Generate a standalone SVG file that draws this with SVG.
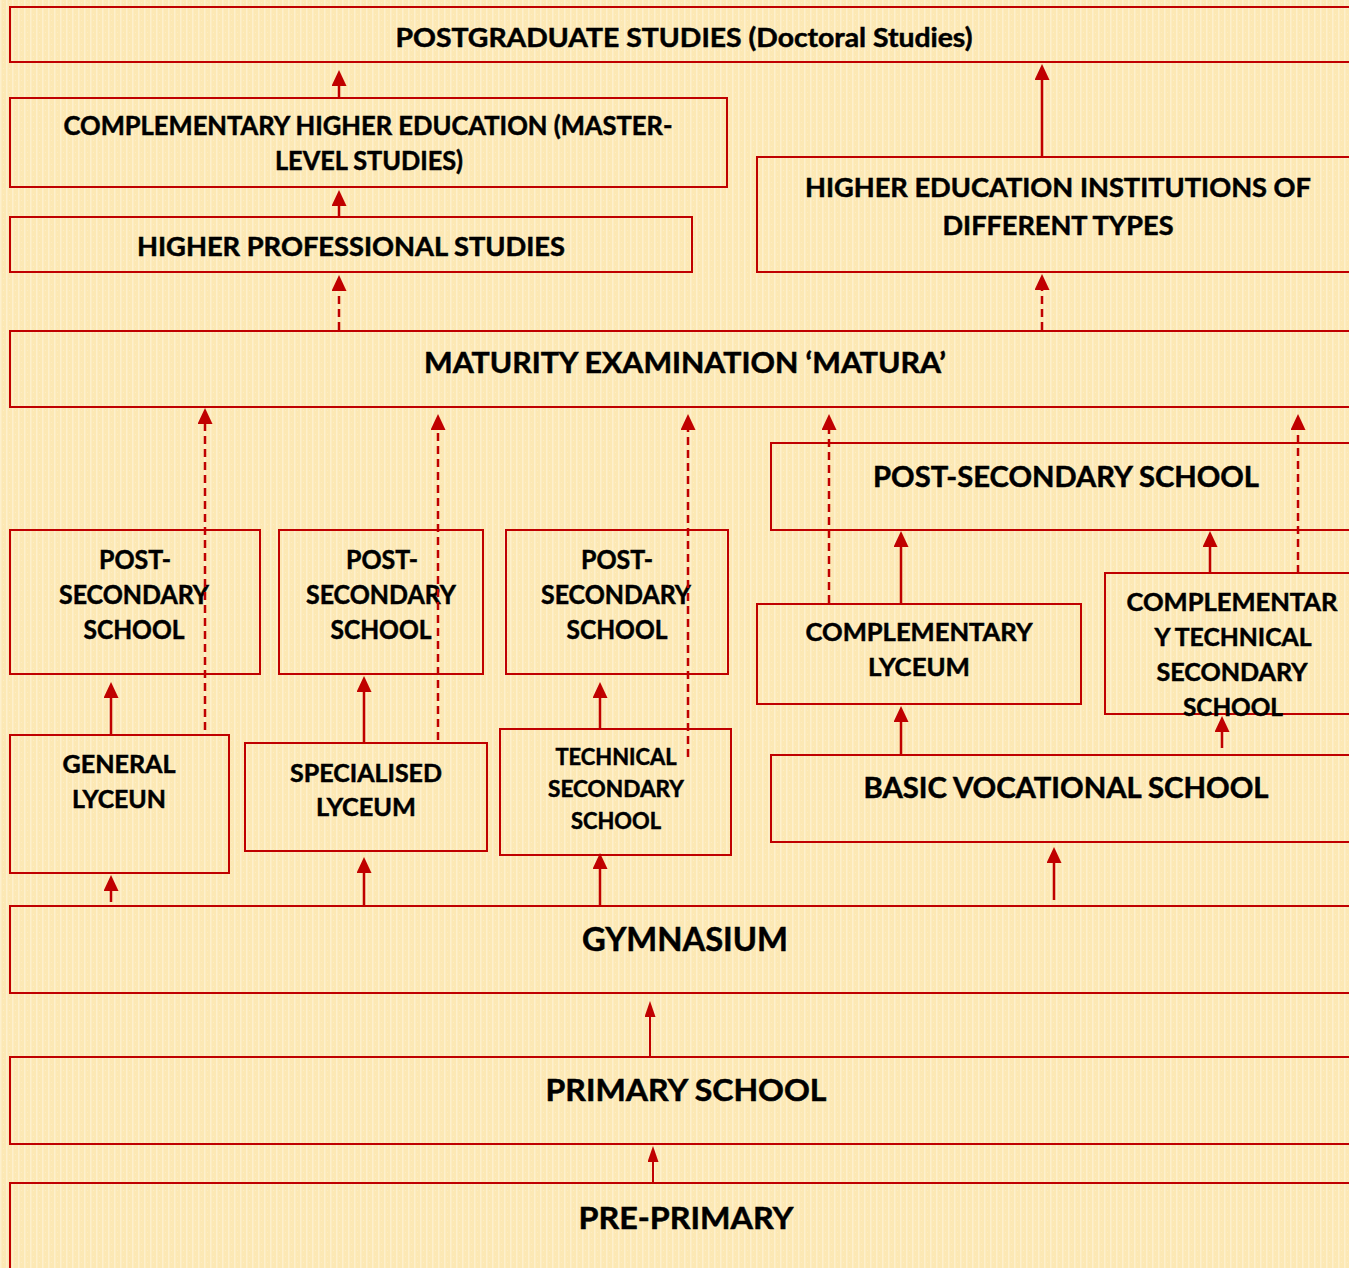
<svg xmlns="http://www.w3.org/2000/svg" width="1349" height="1268" viewBox="0 0 1349 1268">
<defs>
<pattern id="tex" width="6" height="6" patternUnits="userSpaceOnUse">
<rect width="6" height="6" fill="#FCE8B4"/>
<rect x="0" y="0" width="1.5" height="6" fill="#FEF2D2" opacity="0.8"/>
<rect x="3" y="2" width="1" height="1" fill="#FEF0CC" opacity="0.7"/>
</pattern>
<marker id="ah" markerUnits="userSpaceOnUse" viewBox="0 0 16 15" markerWidth="16" markerHeight="15" refX="0" refY="7.5" orient="auto">
<path d="M0,0 L16,7.5 L0,15 z" fill="#C00000"/>
</marker>
<marker id="ahn" markerUnits="userSpaceOnUse" viewBox="0 0 16 11" markerWidth="16" markerHeight="11" refX="0" refY="5.5" orient="auto">
<path d="M0,0 L16,5.5 L0,11 z" fill="#C00000"/>
</marker>
</defs>
<style>
.box{fill:none;stroke:#C00000;stroke-width:2}
.t{font-family:Lato,"Open Sans","Liberation Sans",sans-serif;font-weight:bold;fill:#000;stroke:#000;stroke-width:0.5;text-anchor:middle}
.c{stroke:#C00000;stroke-width:2.5;fill:none;marker-end:url(#ah)}
.d{stroke-dasharray:8 5}
.n{stroke-width:2;marker-end:url(#ahn)}
</style>
<rect width="1349" height="1268" fill="url(#tex)"/>

<g id="postgraduate">
<rect class="box" x="10" y="7" width="1400" height="55"/>
<text class="t" x="684" y="47" font-size="27" textLength="577" lengthAdjust="spacingAndGlyphs">POSTGRADUATE STUDIES (Doctoral Studies)</text>
</g>
<g id="complementary-higher">
<rect class="box" x="10" y="98" width="717" height="89"/>
<text class="t" x="368" y="135" font-size="26" textLength="609" lengthAdjust="spacingAndGlyphs">COMPLEMENTARY HIGHER EDUCATION (MASTER-</text>
<text class="t" x="369" y="170" font-size="26" textLength="188" lengthAdjust="spacingAndGlyphs">LEVEL STUDIES)</text>
</g>
<g id="higher-professional">
<rect class="box" x="10" y="217" width="682" height="55"/>
<text class="t" x="351" y="256" font-size="26" textLength="428" lengthAdjust="spacingAndGlyphs">HIGHER PROFESSIONAL STUDIES</text>
</g>
<g id="higher-institutions">
<rect class="box" x="757" y="157" width="653" height="115"/>
<text class="t" x="1058" y="197" font-size="26.5" textLength="506" lengthAdjust="spacingAndGlyphs">HIGHER EDUCATION INSTITUTIONS OF</text>
<text class="t" x="1058" y="235" font-size="26.5" textLength="231" lengthAdjust="spacingAndGlyphs">DIFFERENT TYPES</text>
</g>
<g id="matura">
<rect class="box" x="10" y="331" width="1400" height="76"/>
<text class="t" x="685" y="373" font-size="29" textLength="522" lengthAdjust="spacingAndGlyphs">MATURITY EXAMINATION ‘MATURA’</text>
</g>
<g id="post-secondary-wide">
<rect class="box" x="771" y="443" width="640" height="87"/>
<text class="t" x="1066" y="487" font-size="29" textLength="386" lengthAdjust="spacingAndGlyphs">POST-SECONDARY SCHOOL</text>
</g>
<g id="post-secondary-1">
<rect class="box" x="10" y="530" width="250" height="144"/>
<text class="t" x="135" y="569" font-size="26" textLength="72" lengthAdjust="spacingAndGlyphs">POST-</text>
<text class="t" x="134" y="604" font-size="26" textLength="150" lengthAdjust="spacingAndGlyphs">SECONDARY</text>
<text class="t" x="134" y="639" font-size="26" textLength="101" lengthAdjust="spacingAndGlyphs">SCHOOL</text>
</g>
<g id="post-secondary-2">
<rect class="box" x="279" y="530" width="204" height="144"/>
<text class="t" x="382" y="569" font-size="26" textLength="72" lengthAdjust="spacingAndGlyphs">POST-</text>
<text class="t" x="381" y="604" font-size="26" textLength="150" lengthAdjust="spacingAndGlyphs">SECONDARY</text>
<text class="t" x="381" y="639" font-size="26" textLength="101" lengthAdjust="spacingAndGlyphs">SCHOOL</text>
</g>
<g id="post-secondary-3">
<rect class="box" x="506" y="530" width="222" height="144"/>
<text class="t" x="617" y="569" font-size="26" textLength="72" lengthAdjust="spacingAndGlyphs">POST-</text>
<text class="t" x="616" y="604" font-size="26" textLength="150" lengthAdjust="spacingAndGlyphs">SECONDARY</text>
<text class="t" x="617" y="639" font-size="26" textLength="101" lengthAdjust="spacingAndGlyphs">SCHOOL</text>
</g>
<g id="complementary-lyceum">
<rect class="box" x="757" y="604" width="324" height="100"/>
<text class="t" x="919" y="641" font-size="25" textLength="227" lengthAdjust="spacingAndGlyphs">COMPLEMENTARY</text>
<text class="t" x="919" y="676" font-size="25" textLength="102" lengthAdjust="spacingAndGlyphs">LYCEUM</text>
</g>
<g id="complementary-technical">
<rect class="box" x="1105" y="573" width="306" height="141"/>
<text class="t" x="1232" y="611" font-size="25" textLength="211" lengthAdjust="spacingAndGlyphs">COMPLEMENTAR</text>
<text class="t" x="1233" y="646" font-size="25" textLength="157" lengthAdjust="spacingAndGlyphs">Y TECHNICAL</text>
<text class="t" x="1232" y="681" font-size="25" textLength="151" lengthAdjust="spacingAndGlyphs">SECONDARY</text>
<text class="t" x="1233" y="716" font-size="25" textLength="100" lengthAdjust="spacingAndGlyphs">SCHOOL</text>
</g>
<g id="general-lyceun">
<rect class="box" x="10" y="735" width="219" height="138"/>
<text class="t" x="119" y="773" font-size="25.5" textLength="113" lengthAdjust="spacingAndGlyphs">GENERAL</text>
<text class="t" x="119" y="808" font-size="25.5" textLength="94" lengthAdjust="spacingAndGlyphs">LYCEUN</text>
</g>
<g id="specialised-lyceum">
<rect class="box" x="245" y="743" width="242" height="108"/>
<text class="t" x="366" y="782" font-size="25.5" textLength="152" lengthAdjust="spacingAndGlyphs">SPECIALISED</text>
<text class="t" x="366" y="816" font-size="25.5" textLength="100" lengthAdjust="spacingAndGlyphs">LYCEUM</text>
</g>
<g id="technical-secondary">
<rect class="box" x="500" y="729" width="231" height="126"/>
<text class="t" x="616" y="765" font-size="22" textLength="121" lengthAdjust="spacingAndGlyphs">TECHNICAL</text>
<text class="t" x="616" y="797" font-size="22" textLength="136" lengthAdjust="spacingAndGlyphs">SECONDARY</text>
<text class="t" x="616" y="829" font-size="22" textLength="90" lengthAdjust="spacingAndGlyphs">SCHOOL</text>
</g>
<g id="basic-vocational">
<rect class="box" x="771" y="755" width="640" height="87"/>
<text class="t" x="1066" y="798" font-size="29" textLength="405" lengthAdjust="spacingAndGlyphs">BASIC VOCATIONAL SCHOOL</text>
</g>
<g id="gymnasium">
<rect class="box" x="10" y="906" width="1400" height="87"/>
<text class="t" x="685" y="951" font-size="32" textLength="206" lengthAdjust="spacingAndGlyphs">GYMNASIUM</text>
</g>
<g id="primary">
<rect class="box" x="10" y="1057" width="1400" height="87"/>
<text class="t" x="686" y="1101" font-size="30" textLength="281" lengthAdjust="spacingAndGlyphs">PRIMARY SCHOOL</text>
</g>
<g id="pre-primary">
<rect class="box" x="10" y="1183" width="1400" height="120"/>
<text class="t" x="686" y="1229" font-size="30" textLength="215" lengthAdjust="spacingAndGlyphs">PRE-PRIMARY</text>
</g>

<g id="connectors">
<line class="c" x1="339" y1="97" x2="339" y2="86"/>
<line class="c" x1="339" y1="216" x2="339" y2="206"/>
<line class="c" x1="1042" y1="157" x2="1042" y2="80"/>
<line class="c" x1="111" y1="735" x2="111" y2="698"/>
<line class="c" x1="111" y1="902" x2="111" y2="891"/>
<line class="c" x1="364" y1="743" x2="364" y2="692"/>
<line class="c" x1="364" y1="906" x2="364" y2="873"/>
<line class="c" x1="600" y1="729" x2="600" y2="698"/>
<line class="c" x1="600" y1="906" x2="600" y2="869"/>
<line class="c" x1="901" y1="604" x2="901" y2="547"/>
<line class="c" x1="901" y1="755" x2="901" y2="722"/>
<line class="c" x1="1210" y1="573" x2="1210" y2="547"/>
<line class="c" x1="1222" y1="748" x2="1222" y2="732"/>
<line class="c" x1="1054" y1="900" x2="1054" y2="863"/>
<line class="c n" x1="650" y1="1057" x2="650" y2="1017"/>
<line class="c n" x1="653" y1="1183" x2="653" y2="1162"/>
<line class="c d" x1="339" y1="330" x2="339" y2="291"/>
<line class="c d" x1="1042" y1="330" x2="1042" y2="290"/>
<line class="c d" x1="205" y1="730" x2="205" y2="424"/>
<line class="c d" x1="438" y1="740" x2="438" y2="430"/>
<line class="c d" x1="688" y1="757" x2="688" y2="430"/>
<line class="c d" x1="829" y1="603" x2="829" y2="430"/>
<line class="c d" x1="1298" y1="573" x2="1298" y2="430"/>
</g>
</svg>
